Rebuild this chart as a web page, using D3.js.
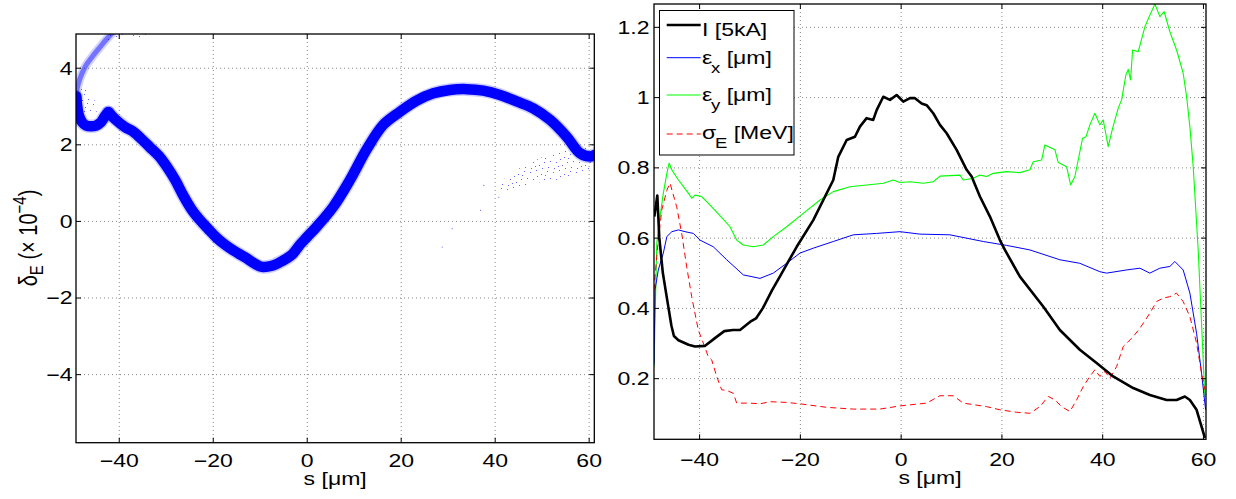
<!DOCTYPE html>
<html><head><meta charset="utf-8">
<script src="https://cdn.jsdelivr.net/npm/d3@7"></script>
<style>
body{margin:0;background:#fff;}
svg{display:block;}
text{font-family:"Liberation Sans",Arial,Helvetica,sans-serif;fill:#000;}
</style></head><body>
<svg id="chart" width="1236" height="499"></svg>
<script>
// ---------------- DATA ----------------
// Left panel: longitudinal phase space (s [µm], delta_E [1e-4]) – centre line of the particle band
const bandCurl = [[-49.0,3.25],[-48.87,3.03],[-48.45,2.74],[-47.81,2.58],[-46.96,2.49],[-45.89,2.47],[-44.83,2.49],[-43.77,2.58],[-42.91,2.74],[-42.21,2.84]];
const bandMain = [[-42.21,2.84],[-40.79,2.66],[-38.66,2.45],[-36.9,2.33],[-35.0,2.12],[-33.34,1.92],[-31.5,1.7],[-29.79,1.42],[-28.0,1.07],[-26.26,0.66],[-24.5,0.3],[-22.7,0.02],[-20.9,-0.22],[-19.15,-0.44],[-17.4,-0.62],[-15.62,-0.77],[-13.13,-0.95],[-11.0,-1.12],[-9.51,-1.2],[-7.38,-1.17],[-5.26,-1.05],[-3.13,-0.88],[-1.43,-0.62],[0,-0.43],[2.13,-0.15],[5.66,0.37],[9.21,1.07],[12.77,1.87],[16.3,2.51],[19.85,2.85],[23.4,3.14],[26.94,3.33],[30.49,3.42],[34.04,3.44],[37.57,3.4],[41.13,3.29],[44.68,3.12],[48.21,2.94],[51.77,2.64],[55.32,2.2],[58.15,1.77],[60.28,1.68],[61.2,1.72]];
const bandUpper = [[-49.0,3.3],[-48.87,3.45],[-48.23,3.73],[-47.17,4.02],[-45.68,4.28],[-43.98,4.54],[-42.7,4.73],[-41.43,4.9]];
const haloTail = [[61.2,1.88],[58.15,1.93],[53.89,1.83],[49.64,1.64],[45.38,1.38],[42.19,1.12],[40.7,0.76],[43.68,0.81],[47.51,0.97],[52.83,1.07],[57.09,1.12],[60.28,1.28],[61.2,1.5]];
const haloTop = [[-43.5,4.7],[-41.5,4.9],[-31.5,4.9],[-34.5,4.8],[-40.0,4.76]];
const haloCurl = [[-49.0,3.55],[-47.5,3.55],[-45.5,3.2],[-44.0,2.95],[-45.5,2.75],[-48.0,2.85]];
const strayParticles = [[30.85,-0.19],[36.87,0.29],[28.72,-0.67],[37.57,0.94],[40.77,0.63]];

// Right panel: slice parameters vs s [µm]
const currentI = [[-48.88,0.66],[-48.29,0.72],[-47.9,0.6],[-47.2,0.5],[-46.3,0.42],[-45.5,0.35],[-45.0,0.32],[-44.1,0.308],[-42.1,0.295],[-40.8,0.29],[-38.8,0.292],[-36.85,0.314],[-35.0,0.334],[-33.27,0.337],[-31.88,0.337],[-29.9,0.36],[-28.71,0.37],[-27.32,0.40],[-25.54,0.45],[-23.95,0.49],[-22.36,0.53],[-20.63,0.574],[-17.34,0.65],[-13.37,0.764],[-12.38,0.83],[-10.71,0.878],[-9.07,0.887],[-8.08,0.916],[-6.75,0.94],[-5.44,0.935],[-4.76,0.963],[-3.45,1.001],[-2.12,0.992],[-0.79,1.006],[0.52,0.987],[1.85,0.997],[2.84,0.997],[4.17,0.982],[5.16,0.977],[6.47,0.954],[7.8,0.921],[9.13,0.897],[11.11,0.85],[13.1,0.793],[14.09,0.774],[15.73,0.717],[17.72,0.66],[19.7,0.593],[20.69,0.565],[23.67,0.489],[28.29,0.404],[31.6,0.337],[35.56,0.281],[38.89,0.243],[42.18,0.205],[46.15,0.172],[49.46,0.152],[52.78,0.138],[54.76,0.138],[56.41,0.148],[57.4,0.138],[58.73,0.11],[60.38,0.03]];
const emitX = [[-48.95,0.24],[-48.75,0.451],[-48.1,0.508],[-47.1,0.556],[-46.4,0.603],[-45.4,0.617],[-44.1,0.622],[-42.8,0.617],[-41.15,0.612],[-39.82,0.593],[-37.18,0.574],[-34.52,0.537],[-31.23,0.494],[-27.92,0.484],[-25.28,0.499],[-22.62,0.527],[-19.98,0.556],[-17.34,0.57],[-13.37,0.589],[-9.4,0.608],[-4.76,0.612],[-0.14,0.617],[3.83,0.61],[9.78,0.608],[16.39,0.589],[21.0,0.578],[25.65,0.565],[31.6,0.537],[35.56,0.527],[39.54,0.503],[40.87,0.499],[44.84,0.508],[47.48,0.513],[49.46,0.499],[51.44,0.513],[53.43,0.518],[54.42,0.532],[56.07,0.508],[57.4,0.442],[58.73,0.328],[59.72,0.214],[60.52,0.11]];
const emitY = [[-48.95,0.233],[-48.4,0.584],[-47.75,0.66],[-47.1,0.726],[-46.4,0.783],[-45.95,0.812],[-45.4,0.793],[-44.1,0.764],[-42.1,0.726],[-41.45,0.712],[-40.8,0.721],[-39.5,0.717],[-38.2,0.698],[-36.0,0.665],[-33.87,0.631],[-32.54,0.593],[-31.23,0.579],[-29.25,0.574],[-27.26,0.579],[-25.28,0.603],[-22.62,0.631],[-19.33,0.669],[-16.01,0.707],[-13.37,0.731],[-10.06,0.745],[-6.75,0.75],[-3.45,0.755],[-1.47,0.764],[-0.14,0.757],[1.85,0.759],[4.48,0.755],[6.47,0.759],[7.8,0.775],[11.77,0.778],[12.42,0.764],[14.4,0.769],[15.73,0.778],[17.06,0.774],[18.37,0.783],[21.03,0.788],[23.67,0.785],[25.65,0.793],[26.31,0.816],[27.98,0.821],[28.63,0.864],[30.62,0.85],[31.27,0.814],[32.94,0.802],[33.73,0.75],[34.58,0.774],[36.11,0.883],[36.77,0.887],[37.56,0.921],[38.55,0.954],[39.54,0.921],[40.2,0.935],[41.19,0.859],[42.06,0.911],[43.17,0.968],[43.85,0.992],[44.7,1.063],[45.16,1.079],[45.63,1.049],[46.03,1.134],[47.14,1.129],[48.47,1.2],[49.33,1.229],[50.46,1.265],[51.45,1.229],[52.3,1.243],[53.43,1.186],[54.76,1.134],[56.07,1.068],[56.75,1.001],[57.4,0.916],[58.06,0.802],[59.05,0.565],[60.38,0.148]];
const sigmaE = [[-48.95,0.45],[-48.75,0.489],[-48.1,0.593],[-47.4,0.679],[-46.4,0.735],[-45.77,0.755],[-44.45,0.688],[-43.45,0.612],[-42.46,0.517],[-41.47,0.432],[-40.16,0.337],[-39.17,0.3],[-38.17,0.261],[-37.5,0.252],[-36.51,0.205],[-35.52,0.167],[-34.52,0.165],[-33.21,0.157],[-32.54,0.129],[-29.9,0.129],[-27.92,0.127],[-25.93,0.133],[-22.62,0.131],[-19.98,0.127],[-14.68,0.117],[-9.4,0.112],[-4.11,0.112],[-0.14,0.121],[5.16,0.129],[7.8,0.15],[10.44,0.15],[12.42,0.129],[17.06,0.119],[19.7,0.11],[23.02,0.103],[25.65,0.1],[27.64,0.119],[29.29,0.148],[30.62,0.138],[31.94,0.119],[33.59,0.105],[34.92,0.138],[36.23,0.176],[37.56,0.205],[38.55,0.224],[39.54,0.205],[40.54,0.219],[41.53,0.2],[42.86,0.233],[44.17,0.29],[46.15,0.318],[47.48,0.342],[49.46,0.385],[50.79,0.418],[52.1,0.428],[53.43,0.432],[54.76,0.442],[56.07,0.418],[57.4,0.375],[58.73,0.3],[59.72,0.214],[60.38,0.167]];

const leftXTicks = [-40,-20,0,20,40,60];
const leftYTicks = [-4,-2,0,2,4];
const rightXTicks = [-40,-20,0,20,40,60];
const rightYTicks = [0.2,0.4,0.6,0.8,1,1.2];
const legendLabels = [["I [5kA]","",""],["ε","x"," [μm]"],["ε","y"," [μm]"],["σ","E"," [MeV]"]];

// ---------------- LAYOUT ----------------
const SX = 1.28;      // horizontal glyph stretch of the original figure
const FS = 18;
const svg = d3.select("#chart");
svg.append("rect").attr("width",1236).attr("height",499).attr("fill","#fff");
const defs = svg.append("defs");

const xL = d3.scaleLinear().domain([-49.1,61.2]).range([76,594.3]);
const yL = d3.scaleLinear().domain([-5.79,4.88]).range([442.7,34]);
const xR = d3.scaleLinear().domain([-48.95,60.6]).range([654,1206]);
const yR = d3.scaleLinear().domain([0.026,1.265]).range([439.3,4]);

const fmt = d => d < 0 ? "\u2212" + Math.abs(d) : String(d);

function clip(id, x, y){
  const [x0,x1]=x.range(), [y0,y1]=y.range();
  defs.append("clipPath").attr("id",id).append("rect").attr("x",x0).attr("y",y1).attr("width",x1-x0).attr("height",y0-y1);
}
clip("clipL",xL,yL); clip("clipR",xR,yR);

// particle spray pattern (irregular dot tile)
const pat = defs.append("pattern").attr("id","spray").attr("patternUnits","userSpaceOnUse").attr("width",23).attr("height",17);
[[1,2],[7,0],[12,4],[18,1],[21,8],[4,9],[10,12],[15,9],[19,14],[2,15],[8,6],[13,15],[6,13],[16,5]]
  .forEach(p=>pat.append("rect").attr("x",p[0]).attr("y",p[1]).attr("width",1).attr("height",1).attr("fill","#3030ff"));

function grid(x, y, xt, yt){
  const [x0,x1]=x.range(), [y0,y1]=y.range();
  const g = svg.append("g");
  g.append("g").attr("transform",`translate(0,${y1})`)
    .call(d3.axisBottom(x).tickValues(xt).tickSize(y0-y1).tickFormat(""))
    .call(s=>{s.select(".domain").remove();s.selectAll("line").attr("stroke","#8a8a8a").attr("stroke-dasharray","1,3");});
  g.append("g").attr("transform",`translate(${x0},0)`)
    .call(d3.axisRight(y).tickValues(yt).tickSize(x1-x0).tickFormat(""))
    .call(s=>{s.select(".domain").remove();s.selectAll("line").attr("stroke","#8a8a8a").attr("stroke-dasharray","1,3");});
}

function frame(x, y, xt, yt, yfmt, xBase, yRight, labBase){
  const [x0,x1]=x.range(), [y0,y1]=y.range();
  const g = svg.append("g");
  const clean = s=>{s.select(".domain").remove();s.attr("font-size",null).attr("font-family",null);s.selectAll("line").attr("stroke","#000");};
  g.append("g").attr("transform",`translate(0,${y0})`)
    .call(d3.axisBottom(x).tickValues(xt).tickSizeInner(-5).tickSizeOuter(0).tickFormat(fmt))
    .call(clean)
    .call(s=>s.selectAll("text").attr("y",null).attr("dy",null).attr("font-size",FS)
      .attr("transform",`translate(0,${xBase-y0}) scale(${SX},1)`));
  g.append("g").attr("transform",`translate(${x0},0)`)
    .call(d3.axisLeft(y).tickValues(yt).tickSizeInner(-5).tickSizeOuter(0).tickFormat(yfmt))
    .call(clean)
    .call(s=>s.selectAll("text").attr("x",null).attr("dy",null).attr("font-size",FS).attr("text-anchor","end")
      .attr("transform",`translate(${yRight-x0},6.4) scale(${SX},1)`));
  g.append("g").attr("transform",`translate(0,${y1})`)
    .call(d3.axisTop(x).tickValues(xt).tickSizeInner(-5).tickSizeOuter(0).tickFormat("")).call(clean);
  g.append("g").attr("transform",`translate(${x1},0)`)
    .call(d3.axisRight(y).tickValues(yt).tickSizeInner(-5).tickSizeOuter(0).tickFormat("")).call(clean);
  g.append("rect").attr("x",x0).attr("y",y1).attr("width",x1-x0).attr("height",y0-y1)
    .attr("fill","none").attr("stroke","#000").attr("stroke-width",1.3);
  g.append("text").attr("text-anchor","middle").attr("font-size",FS)
    .attr("transform",`translate(${(x0+x1)/2},${labBase}) scale(${SX},1)`).text("s [μm]");
}

// ---------------- LEFT PANEL ----------------
grid(xL,yL,leftXTicks,leftYTicks);
const gL = svg.append("g").attr("clip-path","url(#clipL)");
const lineL = d3.line().x(d=>xL(d[0])).y(d=>yL(d[1])).curve(d3.curveCatmullRom);
const areaL = d3.line().x(d=>xL(d[0])).y(d=>yL(d[1])).curve(d3.curveLinearClosed);
[haloTail,haloTop,haloCurl].forEach(h=>gL.append("path").attr("d",areaL(h)).attr("fill","url(#spray)").attr("opacity",0.75));
gL.append("path").attr("d",lineL(bandUpper)).attr("fill","none").attr("stroke","#0000ff").attr("stroke-opacity",0.18).attr("stroke-width",9).attr("stroke-linecap","round");
gL.append("path").attr("d",lineL(bandUpper)).attr("fill","none").attr("stroke","#0000ff").attr("stroke-opacity",0.45).attr("stroke-width",5).attr("stroke-linecap","round");
[bandCurl,bandMain].forEach(b=>{
  gL.append("path").attr("d",lineL(b)).attr("fill","none").attr("stroke","#0000ff").attr("stroke-opacity",0.2).attr("stroke-width",13.5).attr("stroke-linecap","round");
  gL.append("path").attr("d",lineL(b)).attr("fill","none").attr("stroke","#0000ff").attr("stroke-width",10.5).attr("stroke-linecap","round");
});
gL.selectAll("rect.stray").data(strayParticles).join("rect").attr("class","stray")
  .attr("x",d=>xL(d[0])).attr("y",d=>yL(d[1])).attr("width",1).attr("height",1).attr("fill","#6060ff");
frame(xL,yL,leftXTicks,leftYTicks,fmt,467,72.5,485);
const yLab = svg.append("text").attr("text-anchor","middle").attr("font-size",20)
  .attr("transform",`translate(36.5,238) scale(${SX},1) rotate(-90)`);
yLab.append("tspan").text("δ");
yLab.append("tspan").attr("font-size",15).attr("dy",5).text("E");
yLab.append("tspan").attr("dy",-5).text(" (× 10");
yLab.append("tspan").attr("font-size",15).attr("dy",-8).text("\u22124");
yLab.append("tspan").attr("dy",8).text(")");

// ---------------- RIGHT PANEL ----------------
grid(xR,yR,rightXTicks,rightYTicks);
const gR = svg.append("g").attr("clip-path","url(#clipR)");
const lineR = d3.line().x(d=>xR(d[0])).y(d=>yR(d[1]));
const seriesR = [
  {data:currentI, color:"#000000", w:2.6, dash:null},
  {data:emitX, color:"#0000ff", w:1, dash:null},
  {data:emitY, color:"#00ff00", w:1.1, dash:null},
  {data:sigmaE, color:"#ff0000", w:1, dash:"6,4"}
];
// draw order: green, blue, red, black
[2,1,3,0].forEach(i=>{
  const s=seriesR[i];
  gR.append("path").attr("d",lineR(s.data)).attr("fill","none").attr("stroke",s.color)
    .attr("stroke-width",s.w).attr("stroke-dasharray",s.dash).attr("stroke-linejoin","round");
});
frame(xR,yR,rightXTicks,rightYTicks,d=>String(d),466,649.5,484);

// legend
const lg = svg.append("g");
lg.append("rect").attr("x",659.5).attr("y",10.5).attr("width",134.5).attr("height",144.5).attr("fill","#fff").attr("stroke","#000").attr("stroke-width",1);
const rowLine = [25,57.7,95,134], rowBase = [35.5,63.5,101,139];
legendLabels.forEach((lab,i)=>{
  const s=seriesR[i];
  lg.append("line").attr("x1",666.7).attr("x2",700.7).attr("y1",rowLine[i]).attr("y2",rowLine[i])
    .attr("stroke",s.color).attr("stroke-width",s.w).attr("stroke-dasharray",s.dash);
  const t = lg.append("text").attr("font-size",FS).attr("transform",`translate(702,${rowBase[i]}) scale(${SX},1)`);
  t.append("tspan").text(lab[0]);
  if(lab[1]){
    t.append("tspan").attr("font-size",14.5).attr("dy",9).attr("dx",-1).text(lab[1]);
    t.append("tspan").attr("dy",-9).text(lab[2]);
  }
});
</script>
</body></html>
